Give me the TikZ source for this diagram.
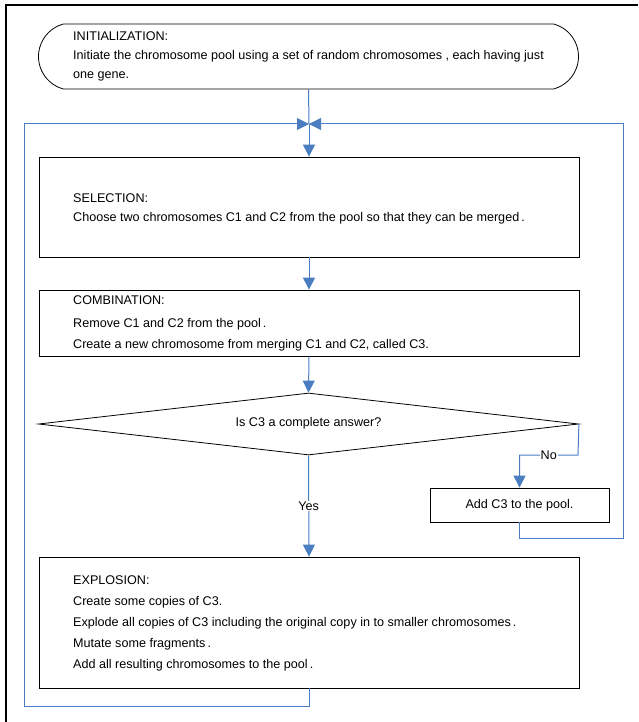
\documentclass[tikz,border=0pt]{standalone}
\usepackage{fontspec}
\setmainfont{Liberation Sans}
\usetikzlibrary{arrows.meta,shapes.misc,shapes.geometric}
\definecolor{flow}{RGB}{74,126,193}
\begin{document}
\begin{tikzpicture}[x=1pt,y=-1pt,
  font=\fontsize{12.6}{15}\selectfont,
  box/.style={draw,line width=0.8pt,rectangle,inner sep=0pt},
  txt/.style={anchor=base west,inner sep=0pt},
  link/.style={draw=flow,line width=1pt},
  arr/.style={link,-{Triangle[width=12pt,length=12pt]}},
  lbl/.style={fill=white,inner sep=1pt}]
\useasboundingbox (0,0) rectangle (638,722);
\draw[line width=2pt] (638,5) -- (6,5) -- (6,722);
% boxes
\node[draw,line width=0.8pt,shape=rounded rectangle,rounded rectangle arc length=150,
      minimum width=540pt,minimum height=65pt,inner sep=0pt] (init) at (308.5,56.5) {};
\node[box,minimum width=540pt,minimum height=100pt] (sel) at (309,207) {};
\node[box,minimum width=540pt,minimum height=66pt] (comb) at (309,323) {};
\node[draw,line width=0.8pt,shape=diamond,aspect=8.7,inner sep=0pt,minimum width=540pt,minimum height=62pt] (dec) at (308.5,424) {};
\node (dect) at (308.5,423) {Is C3 a complete answer?};
\node[box,minimum width=179pt,minimum height=34pt] (add) at (519.5,505) {Add C3 to the pool.};
\node[box,minimum width=540pt,minimum height=131pt] (expl) at (309,622.5) {};
% texts
\node[txt] (t1) at (73,41) {INITIALIZATION:};
\node[txt] (t2) at (73,60) {Initiate the chromosome pool using a set of random chromosomes , each having just};
\node[txt] (t3) at (73,79) {one gene.};
\node[txt] (t4) at (73,202) {SELECTION:};
\node[txt] (t5) at (73,221) {Choose two chromosomes C1 and C2 from the pool so that they can be merged\,.};
\node[txt] (t6) at (73,304) {COMBINATION:};
\node[txt] (t7) at (73,327) {Remove C1 and C2 from the pool\,.};
\node[txt] (t8) at (73,348) {Create a new chromosome from merging C1 and C2, called C3.};
\node[txt] (t9) at (73,584) {EXPLOSION:};
\node[txt] (t10) at (73,605) {Create some copies of C3.};
\node[txt] (t11) at (73,626) {Explode all copies of C3 including the original copy in to smaller chromosomes\,.};
\node[txt] (t12) at (73,647) {Mutate some fragments\,.};
\node[txt] (t13) at (73,668) {Add all resulting chromosomes to the pool\,.};
% coordinates
\coordinate (join) at (309,124);
\coordinate (noa) at (578,455);
\coordinate (nob) at (519.5,455);
\coordinate (rb) at (623,538);
\coordinate (rt) at (623,124);
\coordinate (lb) at (24,706);
\coordinate (lt) at (24,124);
% connectors
\draw[link] (init.south) -- (join);
\draw[arr] (join) -- (sel.north);
\draw[arr] (sel.south) -- (comb.north);
\draw[arr] (comb.south) -- (dec.north);
\draw[arr] (dec.south) -- node[lbl,pos=0.5]{Yes} (expl.north);
\draw[arr] (dec.east) -- (noa) -- node[lbl]{No} (nob) -- (add.north);
\draw[arr] (add.south) |- (rb) -- (rt) -- (join);
\draw[arr] (expl.south) |- (lb) -- (lt) -- (join);
\end{tikzpicture}
\end{document}
